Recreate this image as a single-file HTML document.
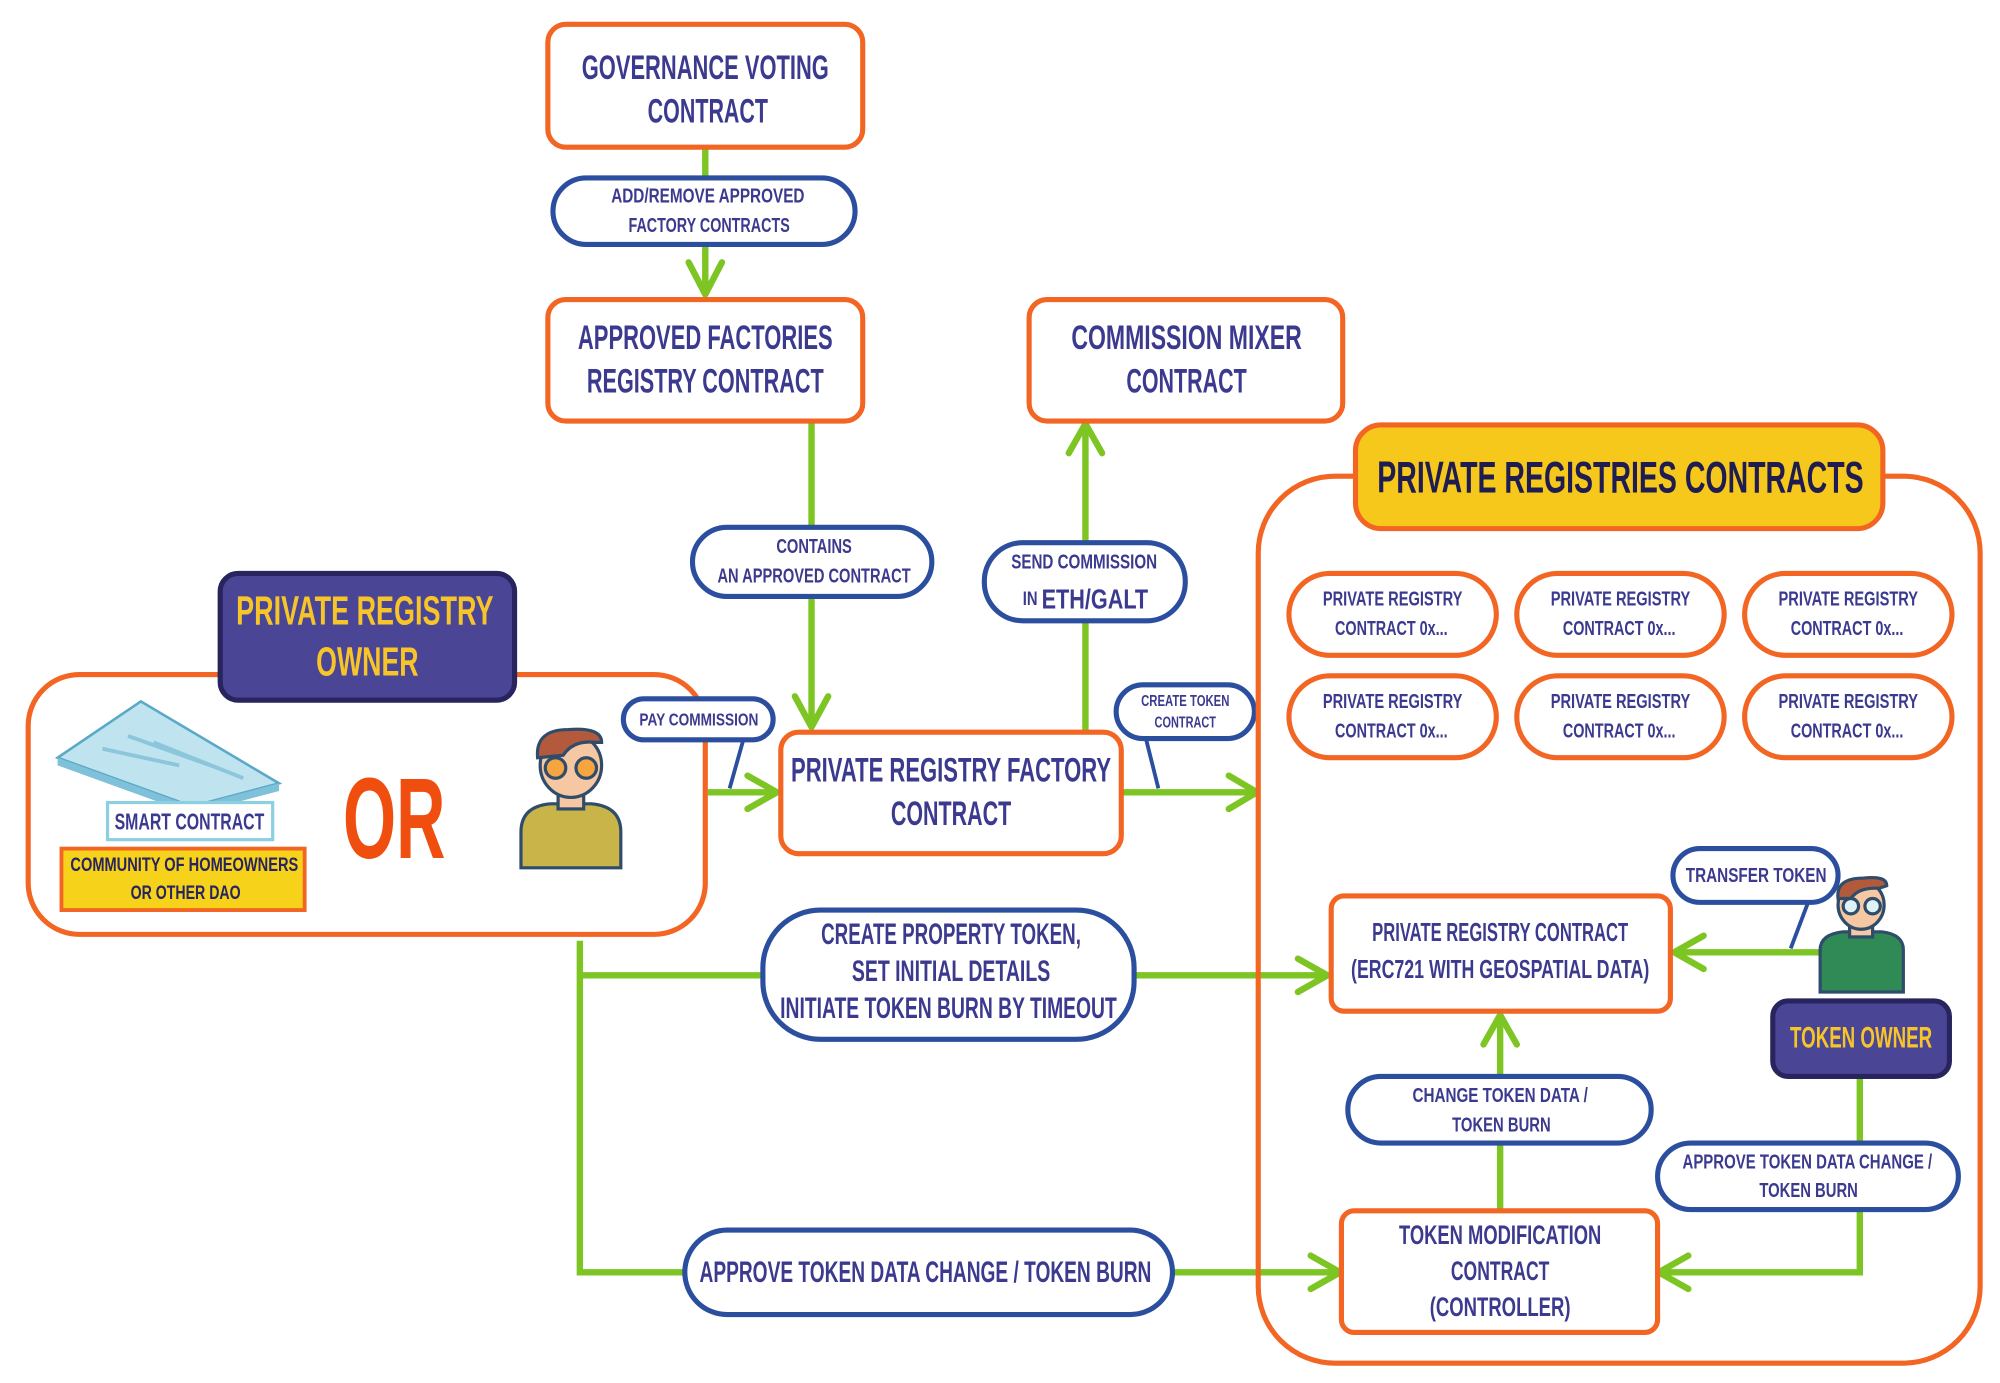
<!DOCTYPE html>
<html><head><meta charset="utf-8">
<style>
html,body{margin:0;padding:0;background:#fff;}
svg{display:block;}
text{font-family:"Liberation Sans Narrow","Liberation Sans",sans-serif;font-weight:bold;text-anchor:middle;dominant-baseline:central;fill:#3b3a8f;}
</style></head><body>
<svg width="2000" height="1383" viewBox="0 0 1562.5 1080.5" xmlns="http://www.w3.org/2000/svg">
<defs>
<style>
.or{fill:#fff;stroke:#f26522;stroke-width:4;}
.bl{fill:#fff;stroke:#2b4f9e;stroke-width:4;}
.g{stroke:#7dc523;stroke-width:5;fill:none;stroke-linecap:round;stroke-linejoin:round;}
.gl{stroke:#7dc523;stroke-width:5;fill:none;}
.tail{stroke:#2b4f9e;stroke-width:3;fill:none;}
</style>
</defs>

<!-- green connectors -->
<line class="gl" x1="551" y1="115" x2="551" y2="229"/>
<polyline class="g" points="538,205 551,230 564,205"/>
<line class="gl" x1="634" y1="329" x2="634" y2="566"/>
<polyline class="g" points="621,544 634,568 647,544"/>
<line class="gl" x1="848" y1="572" x2="848" y2="332"/>
<polyline class="g" points="835,354 848,331 861,354"/>
<line class="gl" x1="553" y1="619" x2="605" y2="619"/>
<polyline class="g" points="584,606 607,619 584,632"/>
<line class="gl" x1="876" y1="619" x2="980" y2="619"/>
<polyline class="g" points="960,606 982,619 960,632"/>
<polyline class="gl" points="453,735 453,994 1045,994"/>
<polyline class="g" points="1024,981 1047,994 1024,1007"/>
<line class="gl" x1="453" y1="762" x2="1035" y2="762"/>
<polyline class="g" points="1014,749 1037,762 1014,775"/>
<line class="gl" x1="1172" y1="946" x2="1172" y2="794"/>
<polyline class="g" points="1159,816 1172,793 1185,816"/>
<line class="gl" x1="1422" y1="744" x2="1310" y2="744"/>
<polyline class="g" points="1331,731 1308,744 1331,757"/>
<polyline class="gl" points="1453,841 1453,994 1298,994"/>
<polyline class="g" points="1319,981 1296,994 1319,1007"/>

<!-- governance -->
<rect class="or" x="428" y="19" width="246" height="96" rx="14"/>
<text x="551" y="53" font-size="27" textLength="193" lengthAdjust="spacingAndGlyphs">GOVERNANCE VOTING</text>
<text x="553" y="87" font-size="27" textLength="94" lengthAdjust="spacingAndGlyphs">CONTRACT</text>

<rect class="bl" x="432" y="139" width="236" height="52" rx="26"/>
<text x="553" y="153" font-size="16" textLength="151" lengthAdjust="spacingAndGlyphs">ADD/REMOVE APPROVED</text>
<text x="554" y="176" font-size="16" textLength="126" lengthAdjust="spacingAndGlyphs">FACTORY CONTRACTS</text>

<rect class="or" x="428" y="234" width="246" height="95" rx="14"/>
<text x="551" y="264" font-size="27" textLength="199" lengthAdjust="spacingAndGlyphs">APPROVED FACTORIES</text>
<text x="551" y="298" font-size="27" textLength="185" lengthAdjust="spacingAndGlyphs">REGISTRY CONTRACT</text>

<rect class="or" x="804" y="234" width="245" height="95" rx="14"/>
<text x="927" y="264" font-size="27" textLength="180" lengthAdjust="spacingAndGlyphs">COMMISSION MIXER</text>
<text x="927" y="298" font-size="27" textLength="94" lengthAdjust="spacingAndGlyphs">CONTRACT</text>

<rect class="bl" x="541" y="412" width="187" height="54" rx="27"/>
<text x="636" y="427" font-size="16" textLength="59" lengthAdjust="spacingAndGlyphs">CONTAINS</text>
<text x="636" y="450" font-size="16" textLength="151" lengthAdjust="spacingAndGlyphs">AN APPROVED CONTRACT</text>

<rect class="bl" x="769" y="424" width="157" height="61" rx="30"/>
<text x="847" y="439" font-size="16" textLength="114" lengthAdjust="spacingAndGlyphs">SEND COMMISSION</text>
<text x="848" y="468" font-size="22" textLength="98" lengthAdjust="spacingAndGlyphs"><tspan font-size="15">IN </tspan>ETH/GALT</text>

<!-- factory -->
<rect class="or" x="610" y="572" width="266" height="95" rx="14"/>
<text x="743" y="602" font-size="27" textLength="250" lengthAdjust="spacingAndGlyphs">PRIVATE REGISTRY FACTORY</text>
<text x="743" y="636" font-size="27" textLength="94" lengthAdjust="spacingAndGlyphs">CONTRACT</text>

<!-- bubbles -->
<line class="tail" x1="895" y1="576" x2="905" y2="616"/>
<rect class="bl" x="872" y="535" width="108" height="42" rx="21" stroke-width="3"/>
<text x="926" y="548" font-size="12" textLength="69" lengthAdjust="spacingAndGlyphs">CREATE TOKEN</text>
<text x="926" y="565" font-size="12" textLength="48" lengthAdjust="spacingAndGlyphs">CONTRACT</text>

<!-- owner panel -->
<rect class="or" x="22" y="527" width="529" height="203" rx="40"/>
<rect x="172" y="448" width="230" height="99" rx="14" fill="#4a4595" stroke="#27245e" stroke-width="4"/>
<text x="285" y="477" font-size="32" style="fill:#f7c52a" textLength="201" lengthAdjust="spacingAndGlyphs">PRIVATE REGISTRY</text>
<text x="287" y="517" font-size="32" style="fill:#f7c52a" textLength="80" lengthAdjust="spacingAndGlyphs">OWNER</text>

<line class="tail" x1="581" y1="577" x2="570" y2="616"/>
<rect class="bl" x="487" y="546" width="117" height="32" rx="16" stroke-width="3"/>
<text x="546" y="562" font-size="14" textLength="93" lengthAdjust="spacingAndGlyphs">PAY COMMISSION</text>

<!-- smart contract sheet -->
<polygon points="45,592 110,548 218,612 150,630" fill="#bfe3ef" stroke="#5aa9c6" stroke-width="2"/>
<polygon points="45,592 45,598 150,636 218,618 218,612 150,630" fill="#7fc1d8"/>
<line x1="80" y1="585" x2="140" y2="598" stroke="#8cc6da" stroke-width="3"/>
<line x1="100" y1="575" x2="170" y2="600" stroke="#8cc6da" stroke-width="3"/>
<line x1="120" y1="580" x2="190" y2="608" stroke="#8cc6da" stroke-width="3"/>
<rect x="84" y="627" width="129" height="29" fill="#fff" stroke="#8ccfe0" stroke-width="2.5"/>
<text x="148" y="642" font-size="18" textLength="117" lengthAdjust="spacingAndGlyphs">SMART CONTRACT</text>
<rect x="48" y="663" width="190" height="48" fill="#f7d21b" stroke="#f26522" stroke-width="3"/>
<text x="144" y="676" font-size="15" style="fill:#27245e" textLength="178" lengthAdjust="spacingAndGlyphs">COMMUNITY OF HOMEOWNERS</text>
<text x="145" y="698" font-size="15" style="fill:#27245e" textLength="86" lengthAdjust="spacingAndGlyphs">OR OTHER DAO</text>

<text x="308" y="640" font-size="90" style="fill:#f04e0f" textLength="80" lengthAdjust="spacingAndGlyphs">OR</text>

<!-- owner person -->
<g stroke="#2f4c6a" stroke-width="2.5">
<path d="M407,678 L407,650 Q407,630 430,628 L462,628 Q485,630 485,650 L485,678 Z" fill="#c9b44a"/>
<rect x="436" y="612" width="20" height="20" fill="#f5c7a3"/>
<ellipse cx="446" cy="598" rx="24" ry="25" fill="#f5c7a3"/>
<path d="M420,592 Q418,570 444,570 Q470,568 470,580 L465,580 Q448,578 440,590 Z" fill="#b45a3c"/>
<circle cx="434" cy="600" r="8" fill="#f7a541"/>
<circle cx="458" cy="600" r="8" fill="#f7a541"/>
</g>

<!-- create property token label -->
<rect class="bl" x="596" y="711" width="290" height="101" rx="45"/>
<text x="743" y="730" font-size="23" textLength="203" lengthAdjust="spacingAndGlyphs">CREATE PROPERTY TOKEN,</text>
<text x="743" y="759" font-size="23" textLength="155" lengthAdjust="spacingAndGlyphs">SET INITIAL DETAILS</text>
<text x="741" y="788" font-size="23" textLength="263" lengthAdjust="spacingAndGlyphs">INITIATE TOKEN BURN BY TIMEOUT</text>

<rect class="bl" x="535" y="961" width="381" height="66" rx="33"/>
<text x="723" y="994" font-size="23" textLength="353" lengthAdjust="spacingAndGlyphs">APPROVE TOKEN DATA CHANGE / TOKEN BURN</text>

<!-- private registries container -->
<rect x="983" y="372" width="564" height="693" rx="60" fill="none" stroke="#f26522" stroke-width="4"/>
<rect x="1059" y="332" width="412" height="81" rx="20" fill="#f7c81c" stroke="#f26522" stroke-width="4"/>
<text x="1266" y="373" font-size="35" style="fill:#1e1c50" textLength="380" lengthAdjust="spacingAndGlyphs">PRIVATE REGISTRIES CONTRACTS</text>

<g>
<rect class="or" x="1007" y="448" width="162" height="64" rx="32"/>
<rect class="or" x="1185" y="448" width="162" height="64" rx="32"/>
<rect class="or" x="1363" y="448" width="162" height="64" rx="32"/>
<rect class="or" x="1007" y="528" width="162" height="64" rx="32"/>
<rect class="or" x="1185" y="528" width="162" height="64" rx="32"/>
<rect class="or" x="1363" y="528" width="162" height="64" rx="32"/>
<text x="1088" y="468" font-size="16" textLength="109" lengthAdjust="spacingAndGlyphs">PRIVATE REGISTRY</text>
<text x="1266" y="468" font-size="16" textLength="109" lengthAdjust="spacingAndGlyphs">PRIVATE REGISTRY</text>
<text x="1444" y="468" font-size="16" textLength="109" lengthAdjust="spacingAndGlyphs">PRIVATE REGISTRY</text>
<text x="1088" y="548" font-size="16" textLength="109" lengthAdjust="spacingAndGlyphs">PRIVATE REGISTRY</text>
<text x="1266" y="548" font-size="16" textLength="109" lengthAdjust="spacingAndGlyphs">PRIVATE REGISTRY</text>
<text x="1444" y="548" font-size="16" textLength="109" lengthAdjust="spacingAndGlyphs">PRIVATE REGISTRY</text>
<text x="1087" y="491" font-size="16" textLength="88" lengthAdjust="spacingAndGlyphs">CONTRACT 0x...</text>
<text x="1265" y="491" font-size="16" textLength="88" lengthAdjust="spacingAndGlyphs">CONTRACT 0x...</text>
<text x="1443" y="491" font-size="16" textLength="88" lengthAdjust="spacingAndGlyphs">CONTRACT 0x...</text>
<text x="1087" y="571" font-size="16" textLength="88" lengthAdjust="spacingAndGlyphs">CONTRACT 0x...</text>
<text x="1265" y="571" font-size="16" textLength="88" lengthAdjust="spacingAndGlyphs">CONTRACT 0x...</text>
<text x="1443" y="571" font-size="16" textLength="88" lengthAdjust="spacingAndGlyphs">CONTRACT 0x...</text>
</g>

<rect class="or" x="1040" y="700" width="265" height="90" rx="10"/>
<text x="1172" y="729" font-size="20" textLength="200" lengthAdjust="spacingAndGlyphs">PRIVATE REGISTRY CONTRACT</text>
<text x="1172" y="758" font-size="20" textLength="233" lengthAdjust="spacingAndGlyphs">(ERC721 WITH GEOSPATIAL DATA)</text>

<rect class="bl" x="1053" y="841" width="237" height="52" rx="26"/>
<text x="1172" y="856" font-size="16" textLength="137" lengthAdjust="spacingAndGlyphs">CHANGE TOKEN DATA /</text>
<text x="1173" y="879" font-size="16" textLength="77" lengthAdjust="spacingAndGlyphs">TOKEN BURN</text>

<rect class="or" x="1048" y="946" width="247" height="95" rx="10"/>
<text x="1172" y="965" font-size="21" textLength="158" lengthAdjust="spacingAndGlyphs">TOKEN MODIFICATION</text>
<text x="1172" y="993" font-size="21" textLength="77" lengthAdjust="spacingAndGlyphs">CONTRACT</text>
<text x="1172" y="1021" font-size="21" textLength="110" lengthAdjust="spacingAndGlyphs">(CONTROLLER)</text>

<!-- token owner -->
<line class="tail" x1="1413" y1="704" x2="1399" y2="741"/>
<rect class="bl" x="1307" y="663" width="129" height="42" rx="21" stroke-width="3"/>
<text x="1372" y="684" font-size="16" textLength="110" lengthAdjust="spacingAndGlyphs">TRANSFER TOKEN</text>

<g stroke="#2f4c6a" stroke-width="2.5">
<path d="M1422,775 L1422,742 Q1422,730 1440,728 L1470,728 Q1487,730 1487,742 L1487,775 Z" fill="#2f8a55"/>
<rect x="1445" y="716" width="18" height="16" fill="#f5c7a3"/>
<ellipse cx="1454" cy="707" rx="18" ry="19" fill="#f5c7a3"/>
<path d="M1436,702 Q1434,686 1456,686 Q1474,684 1474,692 L1468,694 Q1452,693 1446,702 Z" fill="#b45a3c"/>
<circle cx="1446" cy="708" r="6" fill="#dff2f7"/>
<circle cx="1463" cy="708" r="6" fill="#dff2f7"/>
</g>
<rect x="1385" y="782" width="138" height="59" rx="12" fill="#4a4595" stroke="#27245e" stroke-width="4"/>
<text x="1454" y="811" font-size="23" style="fill:#f7c52a" textLength="111" lengthAdjust="spacingAndGlyphs">TOKEN OWNER</text>

<rect class="bl" x="1295" y="893" width="235" height="52" rx="26"/>
<text x="1412" y="908" font-size="16" textLength="195" lengthAdjust="spacingAndGlyphs">APPROVE TOKEN DATA CHANGE /</text>
<text x="1413" y="930" font-size="16" textLength="77" lengthAdjust="spacingAndGlyphs">TOKEN BURN</text>
</svg>
</body></html>
